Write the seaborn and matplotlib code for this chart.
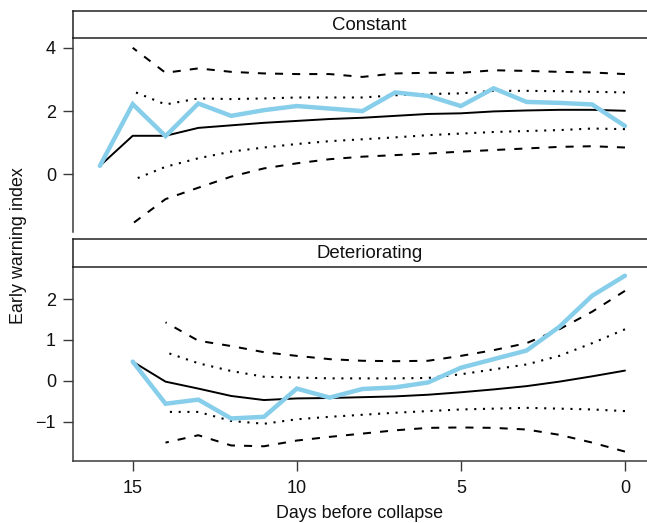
import numpy as np
import pandas as pd
import matplotlib
matplotlib.use("Agg")
import matplotlib.pyplot as plt
import seaborn as sns

# ---------------- data ----------------
days_full = list(range(16, -1, -1))   # 16 .. 0
days_band = list(range(15, -1, -1))   # 15 .. 0
days_det = list(range(15, -1, -1))    # 15 .. 0
days_det_band = list(range(14, -1, -1))  # 14 .. 0

# Constant panel
const_observed = [0.27, 2.22, 1.21, 2.24, 1.85, 2.03, 2.16, 2.08, 2.00, 2.59, 2.48, 2.16, 2.72, 2.29, 2.26, 2.21, 1.53]
const_mean = [0.27, 1.22, 1.22, 1.47, 1.55, 1.63, 1.69, 1.75, 1.79, 1.85, 1.91, 1.93, 1.99, 2.02, 2.04, 2.04, 2.01]
const_dash_hi = [4.00, 3.21, 3.35, 3.24, 3.19, 3.17, 3.17, 3.08, 3.19, 3.21, 3.21, 3.29, 3.27, 3.24, 3.22, 3.17]
const_dot_hi = [2.63, 2.21, 2.40, 2.38, 2.40, 2.43, 2.43, 2.43, 2.50, 2.54, 2.56, 2.64, 2.64, 2.63, 2.61, 2.59]
const_dot_lo = [-0.18, 0.24, 0.51, 0.72, 0.85, 0.96, 1.05, 1.11, 1.17, 1.24, 1.29, 1.34, 1.37, 1.40, 1.45, 1.43]
const_dash_lo = [-1.55, -0.78, -0.42, -0.07, 0.19, 0.35, 0.48, 0.56, 0.61, 0.66, 0.72, 0.77, 0.82, 0.87, 0.89, 0.85]

# Deteriorating panel
det_observed = [0.47, -0.56, -0.46, -0.92, -0.88, -0.19, -0.41, -0.20, -0.16, -0.04, 0.32, 0.53, 0.74, 1.32, 2.08, 2.57]
det_mean = [0.47, -0.02, -0.19, -0.37, -0.47, -0.43, -0.42, -0.40, -0.38, -0.34, -0.28, -0.21, -0.13, -0.02, 0.11, 0.25]
det_dash_hi = [1.43, 0.98, 0.85, 0.70, 0.61, 0.53, 0.49, 0.48, 0.49, 0.61, 0.75, 0.92, 1.26, 1.69, 2.20]
det_dot_hi = [0.70, 0.43, 0.24, 0.10, 0.08, 0.06, 0.06, 0.06, 0.07, 0.16, 0.28, 0.40, 0.61, 0.92, 1.26]
det_dot_lo = [-0.76, -0.76, -0.98, -1.05, -0.94, -0.88, -0.83, -0.78, -0.74, -0.70, -0.68, -0.66, -0.68, -0.70, -0.74]
det_dash_lo = [-1.51, -1.33, -1.58, -1.60, -1.46, -1.37, -1.29, -1.21, -1.15, -1.14, -1.15, -1.19, -1.32, -1.51, -1.73]

panel_titles = ["Constant", "Deteriorating"]
x_ticks = [15, 10, 5, 0]
top_yticks = [0, 2, 4]
bot_yticks = [-1, 0, 1, 2]
x_label = "Days before collapse"
y_label = "Early warning index"

# ---------------- style ----------------
sns.set_theme(style="white")
plt.rcParams["font.family"] = ["Liberation Sans", "DejaVu Sans"]
plt.rcParams["text.color"] = "#111111"
plt.rcParams["xtick.labelcolor"] = "#111111"
plt.rcParams["ytick.labelcolor"] = "#111111"
FS_TICK = 13
FS_LAB = 12.9
FS_STRIP = 13.4
AX_COL = "#3a3a3a"
BLUE = "#87CEEB"

W, H = 647, 523
fig = plt.figure(figsize=(W / 100, H / 100), dpi=100)

left = 73.3 / W
right = 665 / W
width = right - left


def fy(px):
    return 1 - px / H


ax_top = fig.add_axes([left, fy(231.7), width, (231.7 - 38.3) / H])
st_top = fig.add_axes([left, fy(38.3), width, (38.3 - 11) / H])
ax_bot = fig.add_axes([left, fy(461), width, (461 - 266.7) / H])
st_bot = fig.add_axes([left, fy(266.7), width, (266.7 - 239.3) / H])


def draw_panel(ax, d_obs, obs, mean, d_band, dhi, dothi, dotlo, dlo):
    kw_dash = dict(color="black", linewidth=1.45, dashes=(4, 4.5))
    kw_dot = dict(color="black", linewidth=1.5, dashes=(1, 3.2))
    sns.lineplot(x=d_band, y=dhi, ax=ax, **kw_dash)
    sns.lineplot(x=d_band, y=dlo, ax=ax, **kw_dash)
    sns.lineplot(x=d_band, y=dothi, ax=ax, **kw_dot)
    sns.lineplot(x=d_band, y=dotlo, ax=ax, **kw_dot)
    sns.lineplot(x=d_obs, y=mean, ax=ax, color="black", linewidth=1.4)
    sns.lineplot(x=d_obs, y=obs, ax=ax, color=BLUE, linewidth=3.2,
                 solid_joinstyle="miter")


draw_panel(ax_top, days_full, const_observed, const_mean, days_band,
           const_dash_hi, const_dot_hi, const_dot_lo, const_dash_lo)
draw_panel(ax_bot, days_det, det_observed, det_mean, days_det_band,
           det_dash_hi, det_dot_hi, det_dot_lo, det_dash_lo)

xl = (16.81, -1.22)
for ax in (ax_top, ax_bot):
    ax.set_xlim(*xl)
    ax.set_xlabel("")
    ax.set_ylabel("")
    for s in ("top", "right"):
        ax.spines[s].set_visible(False)
    ax.spines["left"].set_color(AX_COL)
    ax.spines["left"].set_linewidth(1.1)
    ax.tick_params(axis="y", direction="out", length=7, width=1.0,
                   color=AX_COL, labelsize=FS_TICK, pad=5.5, left=True,
                   labelcolor="#111111")
    ax.set_facecolor("none")

ax_top.set_ylim(-1.81, 4.30)
ax_top.set_yticks(top_yticks)
ax_top.spines["bottom"].set_visible(False)
ax_top.set_xticks([])

ax_bot.set_ylim(-1.96, 2.79)
ax_bot.set_yticks(bot_yticks)
ax_bot.set_xticks(x_ticks)
ax_bot.spines["bottom"].set_color(AX_COL)
ax_bot.spines["bottom"].set_linewidth(1.1)
ax_bot.tick_params(axis="x", direction="out", length=7, width=1.0,
                   color=AX_COL, labelsize=FS_TICK, pad=7, bottom=True,
                   labelcolor="#111111")

for st, title in zip((st_top, st_bot), panel_titles):
    st.set_xticks([])
    st.set_yticks([])
    st.set_facecolor("white")
    for s in ("top", "bottom", "left"):
        st.spines[s].set_visible(True)
        st.spines[s].set_color("#222222")
        st.spines[s].set_linewidth(1.1)
    st.spines["right"].set_visible(False)
    st.text(0.5, 0.47, title, ha="center", va="center", fontsize=FS_STRIP,
            transform=st.transAxes)

fig.text(18.5 / W, fy(246), y_label, rotation=90, ha="center", va="center",
         fontsize=FS_LAB)
fig.text(359 / W, fy(513), x_label, ha="center", va="center", fontsize=FS_LAB)

fig.savefig("out.png", dpi=100)
